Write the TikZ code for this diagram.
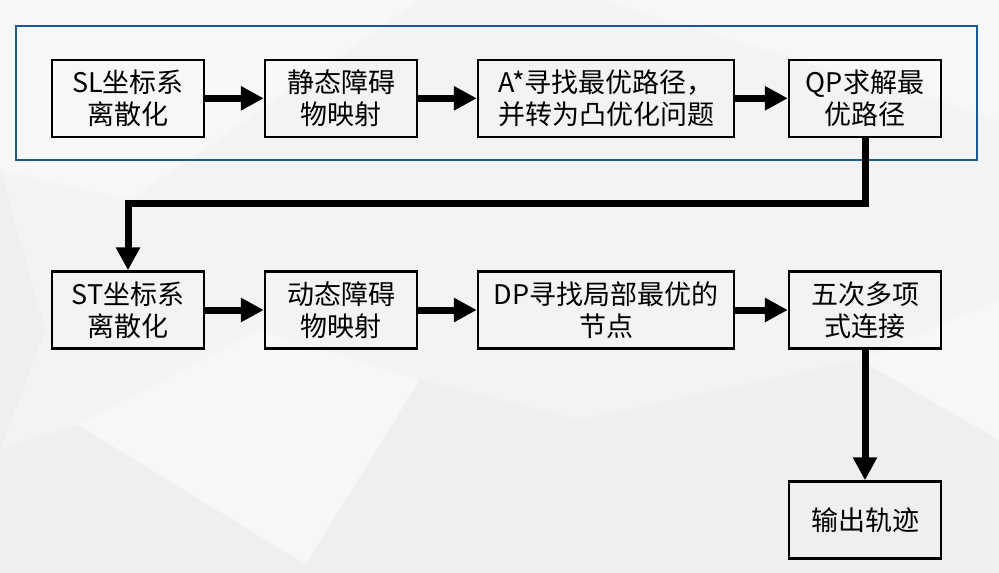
\documentclass[tikz,border=0pt]{standalone}
\usepackage{fontspec}
\setmainfont{Noto Sans CJK SC}
\usetikzlibrary{arrows.meta}
\definecolor{frameblue}{RGB}{28,88,150}
\definecolor{bgbase}{RGB}{243,243,244}
\definecolor{bglight}{RGB}{247,247,248}
\definecolor{bgdark}{RGB}{239,239,241}
\tikzset{
  stepbox/.style={draw=black, line width=2.4pt, minimum height=77pt, inner sep=0pt,
    align=center, font=\fontsize{27pt}{32pt}\selectfont},
  flow/.style={line width=7pt, line join=miter, -{Triangle[length=23pt,width=23pt]}},
}
\begin{document}
\begin{tikzpicture}[x=1pt,y=-1pt]
\useasboundingbox (0,0) rectangle (999,573);
% background facets
\fill[bgbase] (0,0) rectangle (999,573);
\fill[bglight] (0,0) -- (420,0) -- (130,200) -- (0,170) -- cycle;
\fill[bgdark] (0,170) -- (45,330) -- (0,450) -- cycle;
\fill[bgdark] (0,450) -- (78,425) -- (320,573) -- (0,573) -- cycle;
\fill[bglight] (78,425) -- (260,330) -- (420,380) -- (320,573) -- cycle;
\fill[bgdark] (580,420) -- (860,360) -- (999,440) -- (999,573) -- (700,573) -- cycle;
\fill[bglight] (860,360) -- (999,300) -- (999,440) -- cycle;
\fill[bglight] (600,0) -- (999,0) -- (999,120) -- cycle;
\fill[bgdark] (300,573) -- (420,380) -- (580,420) -- (700,573) -- cycle;
% blue frame
\draw[frameblue, line width=2pt] (15.5,25.5) rectangle (977,160);
% nodes
\node[stepbox, minimum width=152pt] (sl)  at (128,98.3) {SL坐标系\\离散化};
\node[stepbox, minimum width=152pt] (so)  at (341,98.3) {静态障碍\\物映射};
\node[stepbox, minimum width=256pt] (as)  at (606,98.3) {A*寻找最优路径，\\并转为凸优化问题};
\node[stepbox, minimum width=152pt] (qp)  at (865,98.3) {QP求解最\\优路径};
\node[stepbox, minimum width=152pt] (st)  at (128,310) {ST坐标系\\离散化};
\node[stepbox, minimum width=152pt] (do)  at (341,310) {动态障碍\\物映射};
\node[stepbox, minimum width=256pt] (dp)  at (606,310) {DP寻找局部最优的\\节点};
\node[stepbox, minimum width=152pt] (qu)  at (865,310) {五次多项\\式连接};
\node[stepbox, minimum width=152pt] (out) at (865,520) {输出轨迹};
\coordinate (bend) at (128,203.5);
% connectors
\draw[flow] (sl) -- (so);
\draw[flow] (so) -- (as);
\draw[flow] (as) -- (qp);
\draw[flow] (qp.south) |- (bend) -- (st.north);
\draw[flow] (st) -- (do);
\draw[flow] (do) -- (dp);
\draw[flow] (dp) -- (qu);
\draw[flow] (qu) -- (out);
\end{tikzpicture}
\end{document}
